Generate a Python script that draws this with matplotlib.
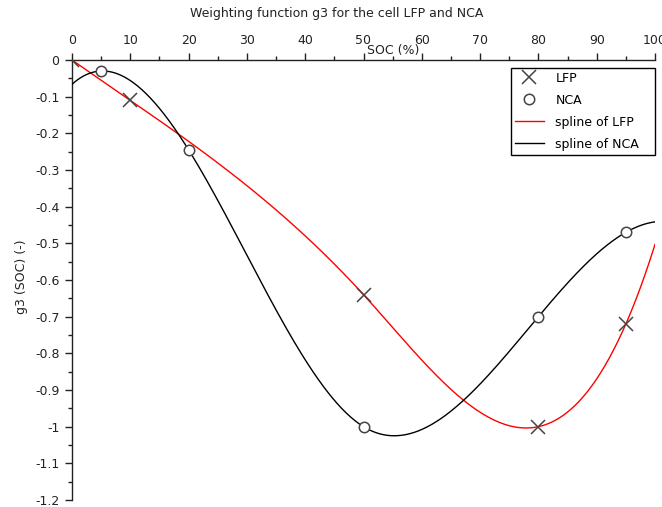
import numpy as np
import matplotlib
matplotlib.use("Agg")
import matplotlib.pyplot as plt
from matplotlib.ticker import MultipleLocator, FuncFormatter

# Data
soc_lfp = [0, 10, 50, 80, 95]
g3_lfp = [0.0, -0.11, -0.64, -1.0, -0.72]
soc_nca = [5, 20, 50, 80, 95]
g3_nca = [-0.03, -0.245, -1.0, -0.70, -0.47]

title = "Weighting function g3 for the cell LFP and NCA"
xlabel = "SOC (%)"
ylabel = "g3 (SOC) (-)"
legend_labels = ["LFP", "NCA", "spline of LFP", "spline of NCA"]


def nak_spline(x, y, xs):
    """Not-a-knot cubic spline (Scilab splin default), evaluated with the end pieces outside."""
    x = np.asarray(x, float)
    y = np.asarray(y, float)
    n = len(x)
    m = n - 1
    A = np.zeros((4 * m, 4 * m))
    r = np.zeros(4 * m)
    row = 0
    for i in range(m):
        h = x[i + 1] - x[i]
        A[row, 4 * i] = 1
        r[row] = y[i]
        row += 1
        A[row, 4 * i:4 * i + 4] = [1, h, h ** 2, h ** 3]
        r[row] = y[i + 1]
        row += 1
    for i in range(m - 1):
        h = x[i + 1] - x[i]
        A[row, 4 * i:4 * i + 4] = [0, 1, 2 * h, 3 * h ** 2]
        A[row, 4 * (i + 1) + 1] = -1
        row += 1
        A[row, 4 * i:4 * i + 4] = [0, 0, 2, 6 * h]
        A[row, 4 * (i + 1) + 2] = -2
        row += 1
    A[row, 3] = 1
    A[row, 7] = -1
    row += 1
    A[row, 4 * (m - 2) + 3] = 1
    A[row, 4 * (m - 1) + 3] = -1
    coef = np.linalg.solve(A, r).reshape(m, 4)
    xs = np.asarray(xs, float)
    idx = np.clip(np.searchsorted(x, xs, side="right") - 1, 0, m - 1)
    t = xs - x[idx]
    c = coef[idx]
    return c[:, 0] + c[:, 1] * t + c[:, 2] * t ** 2 + c[:, 3] * t ** 3


W, H = 662, 507
fig = plt.figure(figsize=(W / 100, H / 100), dpi=100)
L, R, T, B = 72, 655, 60, 500
ax = fig.add_axes([L / W, 1 - B / H, (R - L) / W, (B - T) / H])

FS = 9
TXT = "#222222"

xs = np.linspace(0, 100, 401)
ax.plot(soc_lfp, g3_lfp, linestyle="none", marker="x", markersize=9.5,
        markeredgewidth=1.1, color="#444444", label=legend_labels[0], zorder=4)
ax.plot(soc_nca, g3_nca, linestyle="none", marker="o", markersize=7.5,
        markerfacecolor="white", markeredgewidth=1.1, markeredgecolor="#444444",
        label=legend_labels[1], zorder=4)
ax.plot(xs, nak_spline(soc_lfp, g3_lfp, xs), color="red", lw=1.0,
        label=legend_labels[2], zorder=3)
ax.plot(xs, nak_spline(soc_nca, g3_nca, xs), color="black", lw=1.0,
        label=legend_labels[3], zorder=3)

ax.set_xlim(0, 100)
ax.set_ylim(-1.2, 0)

for s in ["right", "bottom"]:
    ax.spines[s].set_visible(False)
for s in ["top", "left"]:
    ax.spines[s].set_linewidth(1.0)
    ax.spines[s].set_color(TXT)

ax.xaxis.set_ticks_position("top")
ax.xaxis.set_label_position("top")
ax.xaxis.set_major_locator(MultipleLocator(10))
ax.xaxis.set_minor_locator(MultipleLocator(5))
ax.yaxis.set_major_locator(MultipleLocator(0.1))
ax.yaxis.set_minor_locator(MultipleLocator(0.05))
ax.yaxis.set_major_formatter(FuncFormatter(lambda v, p: "%g" % (round(v, 2) + 0.0)))
ax.xaxis.set_major_formatter(FuncFormatter(lambda v, p: "%g" % (v + 0.0)))
ax.tick_params(axis="both", which="major", direction="out", length=5,
               width=1, labelsize=FS, colors=TXT, pad=4)
ax.tick_params(axis="both", which="minor", direction="out", length=3,
               width=1, colors=TXT)

fig.text(337 / W, 1 - 13 / H, title, ha="center", va="center", fontsize=FS,
         color=TXT)
fig.text(393 / W, 1 - 50 / H, xlabel, ha="center", va="center", fontsize=FS,
         color=TXT)
fig.text(22 / W, 1 - 277 / H, ylabel, ha="center", va="center", fontsize=FS,
         rotation=90, color=TXT)

x0 = (511 - L) / (R - L)
ytop = 1 - 8 / (B - T)
leg = ax.legend(loc="upper left", bbox_to_anchor=(x0, 0.5, 1 - x0, ytop - 0.5),
                mode="expand", fontsize=FS, frameon=True, fancybox=False,
                framealpha=1, edgecolor="black", borderpad=0.3,
                labelspacing=0.72, handlelength=2.3, handletextpad=0.95,
                borderaxespad=0)
leg.get_frame().set_linewidth(1.0)

fig.savefig("out.png", dpi=100)
